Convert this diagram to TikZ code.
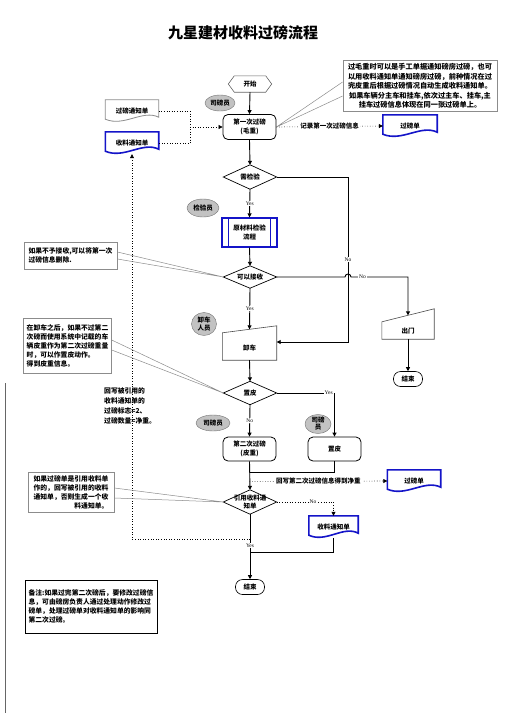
\documentclass[tikz,border=0pt]{standalone}
\usepackage{fontspec}
\setmainfont{Noto Sans CJK SC}
\newfontfamily\yesno{Liberation Serif}
\usetikzlibrary{arrows.meta,calc,shapes.geometric}
\definecolor{DocBlue}{HTML}{1414C8}
\definecolor{NoteGray}{HTML}{8C8C8C}
\definecolor{RoleGray}{HTML}{C2C2C2}

\begin{document}
\begin{tikzpicture}[x=1pt, y=-1pt,
    font=\bfseries\fontsize{6.5}{8.5}\selectfont,
    >={Triangle[length=4pt,width=4pt]},
    proc/.style={draw, line width=0.8pt, rounded corners=5pt, minimum width=53pt, minimum height=25pt, inner sep=0pt, align=center},
    term/.style={draw, line width=0.6pt, rounded corners=7pt, minimum width=29pt, minimum height=15pt, inner sep=0pt},
    role/.style={ellipse, draw=black!55, fill=RoleGray, inner sep=0pt, align=center},
    dec/.style={minimum width=53pt, minimum height=24pt, inner sep=0pt, align=center},
    docbox/.style={minimum width=53pt, minimum height=22pt, inner sep=0pt},
    manin/.style={minimum width=54pt, inner sep=0pt},
    note/.style={draw=NoteGray, line width=0.8pt, inner sep=3pt, font=\bfseries\fontsize{6.8}{9}\selectfont},
    lbl/.style={font=\yesno\fontsize{5.5}{6}\selectfont, fill=white, inner sep=0.8pt},
    flow/.style={line width=0.9pt, ->},
    info/.style={dotted, line width=0.6pt, ->},
    callout/.style={draw=NoteGray, line width=0.5pt}
  ]
  \fill[white] (0,0) rectangle (504,713);
  \useasboundingbox (0,0) rectangle (504,713);
  \draw[black!60] (5,383) -- (5,713);

  % Title
  \node (title) at (243,33) {\fontsize{15}{15}\selectfont 九星建材收料过磅流程};

  % First weighing
  \node (start) [minimum width=43pt, minimum height=16pt, inner sep=0pt] at (250,84) {开始};
  \node (sby1) [role, minimum width=30pt, minimum height=16pt] at (220,103) {司磅员};
  \node (dyc) [proc] at (249.5,127) {第一次过磅\\(毛重)};
  \node (gbtz) [docbox] at (132,111) {过磅通知单};
  \node (sltz) [docbox] at (132,143) {收料通知单};
  \node (gbd) [docbox, minimum width=54pt] at (410,126) {过磅单};
  \node (n0) [note, minimum width=154pt, minimum height=48pt, align=center, font=\bfseries\fontsize{7.2}{9.5}\selectfont] at (420,86)
    {过毛重时可以是手工单据通知磅房过磅，也可\\以用收料通知单通知磅房过磅，前种情况在过\\完皮重后根据过磅情况自动生成收料通知单。\\如果车辆分主车和挂车,依次过主车、挂车,主\\挂车过磅信息体现在同一张过磅单上。};

  % Inspection and receiving
  \node (xjy) [dec] at (250,177) {需检验};
  \node (jyy) [role, minimum width=32pt, minimum height=18pt] at (203,208) {检验员};
  \node (yclj) [draw=DocBlue, line width=1.3pt, minimum width=55pt, minimum height=29pt, inner sep=0pt, align=center] at (249.5,232.5) {原材料检验\\流程};
  \node (kyjs) [dec, minimum height=22pt] at (250,277) {可以接收};
  \node (xcry) [role, minimum width=25pt, minimum height=23pt] at (204,324) {卸车\\人员};
  \node (xc) [manin, minimum height=24pt] at (249.5,348) {卸车};
  \node (cm) [manin, minimum width=52pt, minimum height=16pt] at (408,331) {出门};
  \node (end1) [term] at (408,379) {结束};

  % Second weighing
  \node (zp) [dec, minimum height=23pt] at (250,393) {置皮};
  \node (sby2) [role, minimum width=34pt, minimum height=16pt] at (213,423) {司磅员};
  \node (sby3) [role, minimum width=26pt, minimum height=19pt, font=\bfseries\fontsize{6.5}{7}\selectfont] at (318,424) {司磅\\员};
  \node (ec) [proc, minimum height=24pt] at (249.5,449) {第二次过磅\\(皮重)};
  \node (zpbox) [proc, minimum height=24pt] at (334.5,449) {置皮};
  \node (gbd2) [docbox] at (414,481) {过磅单};
  \node (yysl) [dec] at (250,502) {引用收料通\\知单};
  \node (sltz2) [docbox, minimum width=49pt] at (333.5,527) {收料通知单};
  \node (end2) [term] at (250,587) {结束};

  % Notes
  \node (n1) [note, minimum width=93pt, minimum height=27pt, align=left] at (70.5,255.5) {如果不予接收,可以将第一次\\过磅信息删除.};
  \node (n2) [note, minimum width=87pt, minimum height=55pt, align=left] at (67.5,346) {在卸车之后，如果不过第二\\次磅而使用系统中记载的车\\辆皮重作为第二次过磅重量\\时，可以作置皮动作。\\得到皮重信息。};
  \node (wbnote) [anchor=north west, align=left, inner sep=0pt, font=\bfseries\fontsize{6.8}{10}\selectfont] at (104,387) {回写被引用的\\收料通知单的\\过磅标志=2、\\过磅数量=净重。};
  \node (n3) [note, minimum width=86pt, minimum height=39pt, align=right] at (71,492.5) {如果过磅单是引用收料单\\作的，回写被引用的收料\\通知单，否则生成一个收\\料通知单。};
  \node (n4) [note, draw=black, minimum width=132pt, minimum height=53pt, align=left] at (91,606.5) {备注:如果过完第二次磅后，要修改过磅信\\息，可由磅房负责人通过处理动作修改过\\磅单，处理过磅单对收料通知单的影响同\\第二次过磅。};

  % Shapes
  \draw[black!60, line width=0.6pt] (start.west) -- ([xshift=6pt]start.north west) -- ([xshift=-6pt]start.north east) -- (start.east) -- ([xshift=-6pt]start.south east) -- ([xshift=6pt]start.south west) -- cycle;
  \foreach \n in {xjy,kyjs,zp,yysl}
    \draw[line width=0.7pt] (\n.north) -- (\n.east) -- (\n.south) -- (\n.west) -- cycle;
  \foreach \n/\c/\w in {gbtz/NoteGray/0.8pt, sltz/DocBlue/1.6pt, gbd/DocBlue/1.6pt, gbd2/DocBlue/1.6pt, sltz2/DocBlue/1.6pt}
    \draw[\c, line width=\w] (\n.north west) -- (\n.north east) -- ([yshift=5pt]\n.south east)
      .. controls ($(\n.south west)!0.7!(\n.south east)+(0,13pt)$) and ($(\n.south west)!0.35!(\n.south east)+(0,-5pt)$) .. ([yshift=3pt]\n.south west) -- cycle;
  \foreach \n/\l/\r in {xc/3pt/10pt, cm/1pt/14pt}
    \draw[black!70, line width=0.6pt] (\n.south west) -- ([yshift=\l]\n.north west) -- ([yshift=\r]\n.north east) -- (\n.south east) -- cycle;
  \foreach \s/\a in {7pt/west, -7pt/east}
    \draw[DocBlue, line width=1.3pt] ([xshift=\s]yclj.north \a) -- ([xshift=\s]yclj.south \a);

  % Helper points
  \coordinate (jn) at (190,127);
  \coordinate (bend1) at (348,177);
  \coordinate (xcin) at ($([yshift=3pt]xc.north west)!0.5!([yshift=10pt]xc.north east)$);
  \coordinate (xcport) at ($(xc.east)+(0,6pt)$);
  \coordinate (cmin) at ($([yshift=1pt]cm.north west)!0.5!([yshift=14pt]cm.north east)$);
  \coordinate (merge) at ($(ec.south)+(0,-11pt)$);
  \coordinate (wb) at ($(ec.south)+(0,-20pt)$);
  \coordinate (back) at ($(yysl.south)+(0,-25pt)$);
  \coordinate (merge2) at ($(yysl.south)+(0,-38pt)$);

  % Connectors
  \draw[flow] (start.south) -- (dyc.north);
  \draw[dotted, line width=0.6pt] (gbtz.east) -| (jn) |- (sltz.east);
  \draw[info] (jn) -- (dyc.west);
  \draw[info] (dyc.east) -- node[fill=white, inner sep=1pt]{记录第一次过磅信息} (gbd.west);
  \draw[callout] ($(n0.west)+(0,4pt)$) -- (dyc.east) -- ($(n0.west)+(0,-10pt)$);
  \draw[flow] (dyc.south) -- (xjy.north);
  \draw[flow] (xjy.south) -- node[lbl]{Yes} (yclj.north);
  \draw[flow] (xjy.east) -- (bend1) -- node[lbl]{No} (bend1 |- xcport) -- (xcport);
  \draw[flow] (yclj.south) -- (kyjs.north);
  \draw[flow] (kyjs.south) -- node[lbl]{Yes} (xcin);
  \draw[flow] (kyjs.east) -- ($(bend1 |- kyjs.east)+(-3pt,0)$) arc[start angle=180, end angle=0, radius=3pt]
    -- node[lbl, pos=0.2]{No} (cmin |- kyjs.east) -- (cmin);
  \draw[flow] (cm.south) -- (end1.north);
  \draw[flow] (xc.south) -- (zp.north);
  \draw[flow] (zp.south) -- node[lbl]{No} (ec.north);
  \draw[flow] (zp.east) -| node[lbl, pos=0.45]{Yes} (zpbox.north);
  \draw[line width=0.9pt] (zpbox.south) |- (merge);
  \draw[flow] (ec.south) -- (yysl.north);
  \draw[info] (wb) -- node[fill=white, inner sep=1pt]{回写第二次过磅信息得到净重} (gbd2.west);
  \draw[info] (yysl.east) -| node[lbl, pos=0.32]{No} (sltz2.north);
  \draw[line width=0.9pt] (sltz2.south) |- (merge2);
  \draw[flow] (yysl.south) -- node[lbl, pos=0.48]{Yes} (end2.north);
  \draw[info] (back) -| (sltz.south);

  % Callouts
  \draw[callout] ($(n1.east)+(0,3.5pt)$) -- (kyjs.west) -- ($(n1.east)+(0,-3.5pt)$);
  \draw[callout] ($(n2.east)+(0,6pt)$) -- (zp.west) -- ($(n2.east)+(0,-4pt)$);
  \draw[callout] ($(n3.east)+(0,4.5pt)$) -- (yysl.west) -- ($(n3.east)+(0,-5.5pt)$);
\end{tikzpicture}
\end{document}
